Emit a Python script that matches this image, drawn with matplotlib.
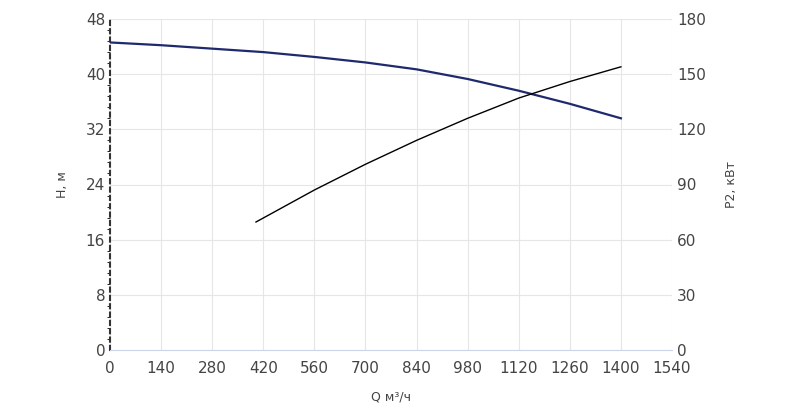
import matplotlib
matplotlib.use("Agg")
import matplotlib.pyplot as plt
import numpy as np

q_h = [0, 140, 280, 420, 560, 700, 840, 980, 1120, 1260, 1400]
h = [44.6, 44.2, 43.7, 43.2, 42.5, 41.7, 40.7, 39.3, 37.6, 35.7, 33.6]
q_p = [400, 560, 700, 840, 980, 1120, 1260, 1400]
p = [69.6, 87, 101, 114, 126, 137, 146, 154]

fig = plt.figure(figsize=(8, 4.08), dpi=100)
ax = fig.add_axes([110/800, 1-350/408, 562/800, 331/408])
ax2 = ax.twinx()
ax.plot(q_h, h, color="#1f2a6e", lw=1.6, zorder=3)
ax2.plot(q_p, p, color="black", lw=1.0)
ax.set_xlim(0, 1540); ax.set_ylim(0, 48); ax2.set_ylim(0, 180)
ax.set_xticks(range(0, 1541, 140)); ax.set_yticks(range(0, 49, 8)); ax2.set_yticks(range(0, 181, 30))
ax.set_yticks(np.arange(0, 48, 1.6), minor=True)
ax.grid(True, color="#e6e6e6", lw=0.8)
for a in (ax, ax2):
    for s in ["top", "right"]:
        a.spines[s].set_visible(False)
    a.tick_params(colors="#444", labelsize=11, length=0)
ax2.spines["left"].set_visible(False); ax2.spines["bottom"].set_visible(False)
ax.spines["bottom"].set_color("#ccd6eb")
ax.spines["left"].set_color("#333"); ax.spines["left"].set_linewidth(1.5)
ax.spines["left"].set_linestyle((0, (2, 2)))
ax.tick_params(axis="x", pad=8)
ax.set_xlabel("Q м³/ч", color="#444", fontsize=9, labelpad=10)
ax.set_ylabel("H, м", color="#444", fontsize=9, labelpad=12)
ax2.set_ylabel("P2, кВт", color="#444", fontsize=9, labelpad=14)
fig.savefig("out.png")
